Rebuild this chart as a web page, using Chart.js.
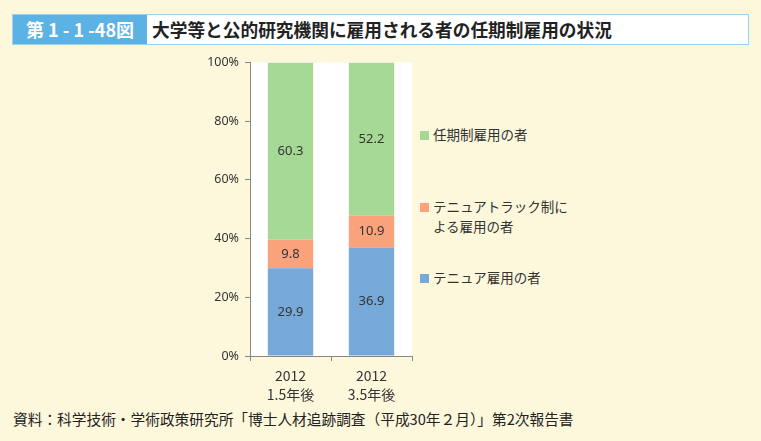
<!DOCTYPE html>
<html>
<head>
<meta charset="utf-8">
<script src="https://cdn.jsdelivr.net/npm/chart.js@4"></script>
<style>
  html, body { margin: 0; padding: 0; }
  body { width: 761px; height: 441px; background: #fdf8dc; position: relative; overflow: hidden;
         font-family: "Noto Sans CJK JP", "Noto Sans", sans-serif; color: #333; }
  .titlebar { position: absolute; left: 12px; top: 14px; width: 737px; height: 31px;
              border: 1px solid #9fd0ec; background: #fff; box-sizing: border-box; }
  .fig-no { position: absolute; left: 0; top: 0; width: 134px; height: 29px; background: #5cb2e2;
            color: #fff; font-weight: bold; font-size: 18px; line-height: 29px; text-align: center; }
  .fig-title { position: absolute; left: 139px; top: 0; height: 29px; line-height: 29px;
               font-weight: bold; font-size: 17.7px; color: #222; }
  #wrap { position: absolute; left: 190px; top: 49px; width: 230px; height: 355px; }
  .legend { position: absolute; left: 420px; font-size: 13.5px; color: #333; line-height: 20px; }
  .legend i { display: inline-block; width: 9px; height: 9px; margin-right: 4px; vertical-align: 0px; }
  .source { position: absolute; left: 13px; top: 408px; font-size: 14.7px; color: #222;
            font-family: "Noto Sans CJK JP", serif; }
</style>
</head>
<body>
<div class="titlebar">
  <div class="fig-no">第 1 - 1 -48図</div>
  <div class="fig-title">大学等と公的研究機関に雇用される者の任期制雇用の状況</div>
</div>
<div id="wrap"><canvas id="chart"></canvas></div>
<div class="legend" style="top:124px"><i style="background:#a6d896"></i>任期制雇用の者</div>
<div class="legend" style="top:196px"><i style="background:#f9a27c"></i>テニュアトラック制に<br><span style="padding-left:13px">よる雇用の者</span></div>
<div class="legend" style="top:267px"><i style="background:#76a8d8"></i>テニュア雇用の者</div>
<div class="source">資料：科学技術・学術政策研究所「博士人材追跡調査（平成30年２月）」第2次報告書</div>
<script>
// --- データ ---
const categories = [['2012', '1.5年後'], ['2012', '3.5年後']];
const tenure = [29.9, 36.9];
const tenureTrack = [9.8, 10.9];
const fixedTerm = [60.3, 52.2];
const yTicks = [0, 20, 40, 60, 80, 100];

// 白いプロットエリア
const plotBg = {
  id: 'plotBg',
  beforeDraw(chart) {
    const { ctx, chartArea: a } = chart;
    ctx.save();
    ctx.fillStyle = '#fff';
    ctx.fillRect(a.left, a.top, a.right - a.left, a.bottom - a.top);
    ctx.restore();
  }
};

// 値ラベル
const valueLabels = {
  id: 'valueLabels',
  afterDatasetsDraw(chart) {
    const ctx = chart.ctx;
    ctx.save();
    ctx.font = '13px "Noto Sans", "DejaVu Sans", sans-serif';
    ctx.fillStyle = '#333';
    ctx.textAlign = 'center';
    ctx.textBaseline = 'middle';
    chart.data.datasets.forEach((ds, i) => {
      chart.getDatasetMeta(i).data.forEach((bar, j) => {
        const mid = (bar.y + bar.base) / 2;
        ctx.fillText(ds.data[j].toFixed(1), bar.x, mid);
      });
    });
    ctx.restore();
  }
};

new Chart(document.getElementById('chart'), {
  type: 'bar',
  data: {
    labels: categories,
    datasets: [
      { label: 'テニュア雇用の者', data: tenure, backgroundColor: '#76a8d8' },
      { label: 'テニュアトラック制による雇用の者', data: tenureTrack, backgroundColor: '#f9a27c' },
      { label: '任期制雇用の者', data: fixedTerm, backgroundColor: '#a6d896' }
    ]
  },
  options: {
    responsive: true,
    maintainAspectRatio: false,
    animation: false,
    categoryPercentage: 1,
    barPercentage: 0.56,
    layout: { padding: { top: 7, right: 8, left: 0, bottom: 0 } },
    plugins: { legend: { display: false }, tooltip: { enabled: false } },
    scales: {
      x: {
        stacked: true,
        grid: { drawOnChartArea: false, color: '#888', tickLength: 5 },
        border: { color: '#888' },
        ticks: { color: '#333', font: { size: 14, lineHeight: 1.3, family: '"Noto Sans CJK JP", sans-serif' }, padding: 6 },
        afterFit(s) { s.height = 48; }
      },
      y: {
        stacked: true,
        min: 0,
        max: 100,
        afterBuildTicks(s) { s.ticks = yTicks.map(v => ({ value: v })); },
        grid: { drawOnChartArea: false, color: '#888', tickLength: 5 },
        border: { color: '#888' },
        ticks: { color: '#333', font: { size: 12.5, family: '"Noto Sans", sans-serif' }, padding: 6,
                 callback: v => v + '%' },
        afterFit(s) { s.width = 60; }
      }
    }
  },
  plugins: [plotBg, valueLabels]
});
</script>
</body>
</html>
